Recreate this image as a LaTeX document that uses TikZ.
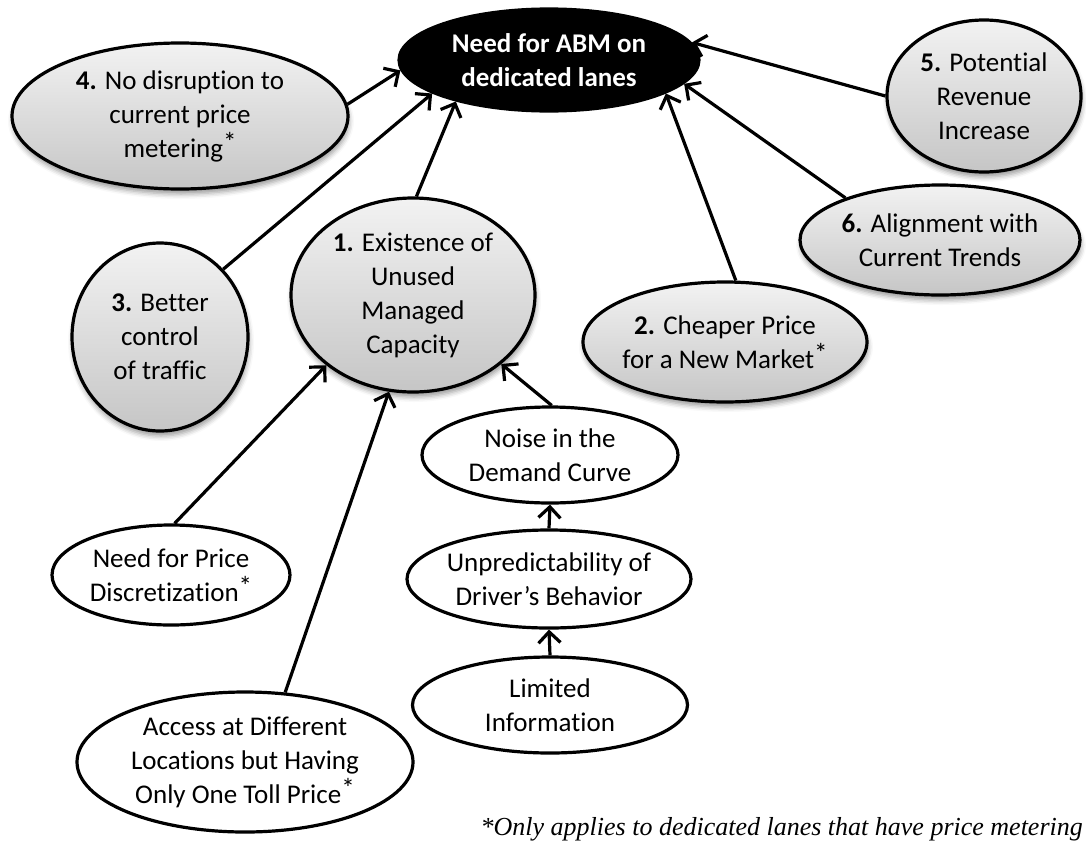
\documentclass[tikz,border=0pt]{standalone}
\usepackage{fontspec}
\setmainfont{Carlito}[Ligatures=NoCommon]
\newfontfamily\notefont{Liberation Serif}
\usetikzlibrary{shapes.geometric,arrows.meta,shadows.blur}

% raised asterisk marking items that depend on price metering
\newcommand\pmark{\raisebox{0.2em}{*}}

\tikzset{
  bubble/.style={ellipse, draw=black, line width=3.2pt, align=center,
    inner xsep=-24pt, inner ysep=-14pt,
    font=\fontsize{27}{34}\selectfont},
  grey/.style={bubble, top color=gray!10, bottom color=gray!45,
    blur shadow={shadow xshift=1pt, shadow yshift=-5pt,
      shadow blur radius=5pt, shadow opacity=40}},
  plain/.style={bubble, fill=white},
  goal/.style={bubble, fill=black, text=white, font=\fontsize{27}{34}\selectfont\bfseries},
  arr/.style={line width=3.2pt, -{Straight Barb[length=11pt,width=22pt,line width=3.2pt]}},
}

\begin{document}
\begin{tikzpicture}[x=1pt,y=-1pt]
\useasboundingbox (0,0) rectangle (1086,841);

% goal
\node[goal, minimum width=300pt, minimum height=102pt] (top) at (549,60) {Need for ABM on\\dedicated lanes};

% main reasons
\node[grey, minimum width=336pt, minimum height=146pt] (n4) at (180,116)
  {\textbf{4.} No disruption to\\current price\\metering\pmark};
\node[grey, minimum width=194pt, minimum height=152pt] (n5) at (984,96)
  {\textbf{5.} Potential\\Revenue\\Increase};
\node[grey, minimum width=280pt, minimum height=110pt] (n6) at (940,240)
  {\textbf{6.} Alignment with\\Current Trends};
\node[grey, minimum width=244pt, minimum height=194pt] (n1) at (413,295)
  {\textbf{1.} Existence of\\Unused\\Managed\\Capacity};
\node[grey, minimum width=176pt, minimum height=188pt] (n3) at (160,337)
  {\textbf{3.} Better\\control\\of traffic};
\node[grey, minimum width=284pt, minimum height=120pt] (n2) at (725,342)
  {\textbf{2.} Cheaper Price\\for a New Market\pmark};

% underlying causes
\node[plain, minimum width=256pt, minimum height=96pt] (noise) at (550,455)
  {Noise in the\\Demand Curve};
\node[plain, minimum width=284pt, minimum height=98pt] (unp) at (549,579)
  {Unpredictability of\\Driver’s Behavior};
\node[plain, minimum width=275pt, minimum height=96pt] (lim) at (550,705)
  {Limited\\Information};
\node[plain, minimum width=238pt, minimum height=100pt] (nfp) at (171,575)
  {Need for Price\\Discretization\pmark};
\node[plain, minimum width=336pt, minimum height=140pt] (acc) at (245,762)
  {Access at Different\\Locations but Having\\Only One Toll Price\pmark};

% footnote
\node[anchor=base east, inner sep=0pt, font=\notefont\itshape\fontsize{26}{30}\selectfont] (note) at (1083,835)
  {*Only applies to dedicated lanes that have price metering};

% links
\draw[arr] (n4.4) -- (top.184);
\draw[arr] (n3.47) -- (top.196);
\draw[arr] (n1.88) -- (top.204);
\draw[arr] (n2.80) -- (top.344);
\draw[arr] (n5.180) -- (top.7);
\draw[arr] (n6.156) -- (top.350);
\draw[arr] (nfp.86) -- (n1.219);
\draw[arr] (acc.60) -- (n1.256);
\draw[arr] (noise.88) -- (n1.322);
\draw[arr] (unp.north) -- (noise.south);
\draw[arr] (lim.north) -- (unp.south);
\end{tikzpicture}
\end{document}
